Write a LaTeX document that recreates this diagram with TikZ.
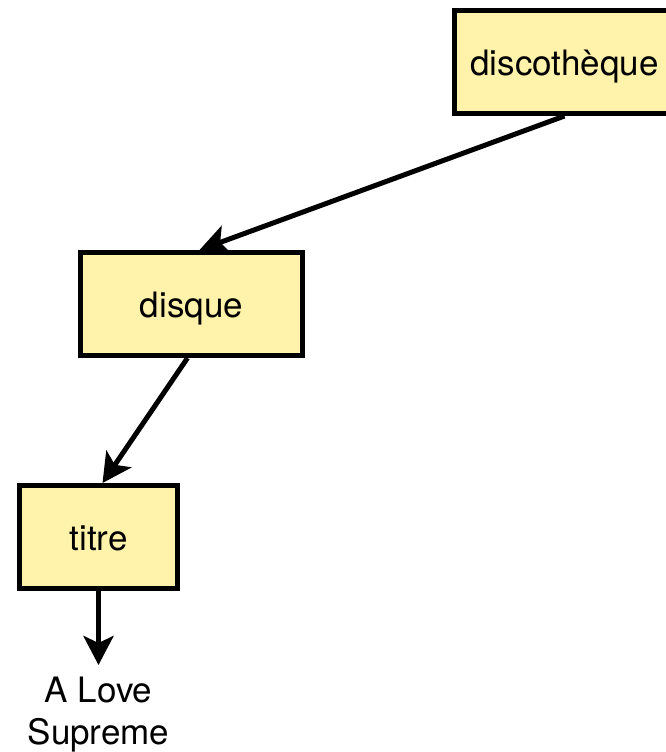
\documentclass[tikz,border=0pt]{standalone}
\usepackage{fontspec}
\setmainfont{TeX Gyre Heros}
\usepackage{xcolor}
\usetikzlibrary{positioning,arrows.meta}
\definecolor{boxfill}{RGB}{255,242,170}
\begin{document}
\begin{tikzpicture}[x=1pt, y=1pt,
        box/.style={rectangle, draw=black, fill=boxfill, line width=5pt, minimum height=103pt, text height=26pt, text depth=0pt, font=\fontsize{35}{42}\selectfont},
        arr/.style={line width=5pt, -{Stealth[length=29pt, width=30pt, inset=7pt]}}]
            \useasboundingbox (0,0) rectangle (665,-752);
            \node[box, minimum width=220pt] (disco) at (564.5,-62) {discothèque};
            \node[box, minimum width=222pt, below=134pt of disco, xshift=-373pt] (disque) {disque};
            \node[box, minimum width=158pt, below=125pt of disque, xshift=-93pt] (titre) {titre};
            \node[below=86pt of titre, inner sep=0pt, align=center, font=\fontsize{35}{42}\selectfont] (valeur) {A Love\\Supreme};
            \draw[arr] (disco.south) -- ([xshift=8pt]disque.north);
            \draw[arr] ([xshift=-4pt]disque.south) -- ([xshift=4pt]titre.north);
            \draw[arr] (titre.south) -- ([yshift=12pt]valeur.north);
        \end{tikzpicture}
\end{document}
